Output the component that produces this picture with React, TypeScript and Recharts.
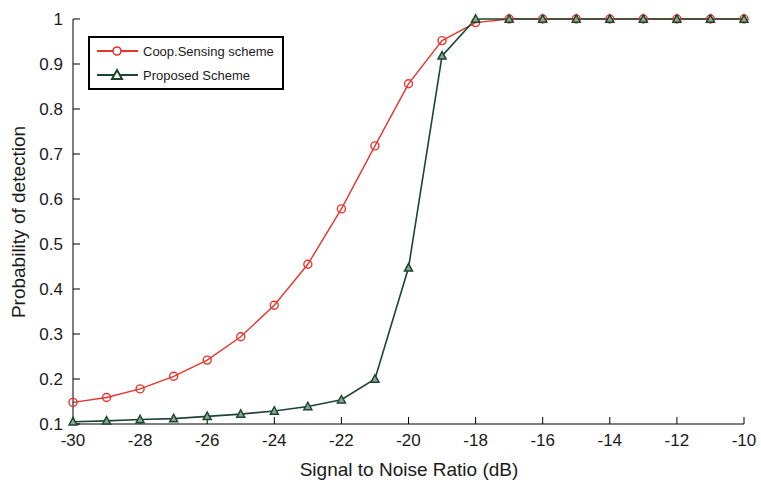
import { LineChart, Line, XAxis, YAxis, Legend } from 'recharts'

// SNR sweep in dB
const snr = [-30, -29, -28, -27, -26, -25, -24, -23, -22, -21, -20, -19, -18, -17, -16, -15, -14, -13, -12, -11, -10]
// probability of detection, cooperative sensing
const coopSensing = [0.148, 0.159, 0.178, 0.206, 0.242, 0.294, 0.364, 0.455, 0.578, 0.718, 0.856, 0.952, 0.992, 1, 1, 1, 1, 1, 1, 1, 1]
// probability of detection, proposed scheme
const proposed = [0.105, 0.107, 0.110, 0.112, 0.117, 0.122, 0.129, 0.139, 0.154, 0.200, 0.447, 0.918, 1, 1, 1, 1, 1, 1, 1, 1, 1]

const xTicks = [-30, -28, -26, -24, -22, -20, -18, -16, -14, -12, -10]
const yTicks = [0.1, 0.2, 0.3, 0.4, 0.5, 0.6, 0.7, 0.8, 0.9, 1]

const RED = '#e8342b'
const GREEN = '#1d4631'
const FONT = '"Liberation Sans", Arial, Helvetica, sans-serif'

const data = snr.map((s, i) => ({ snr: s, coop: coopSensing[i], prop: proposed[i] }))

const tickStyle = { fill: '#1a1a1a', fontSize: 17, fontFamily: FONT }

function Triangle(props: any) {
  const { cx, cy } = props
  if (cx == null || cy == null) return null
  const pts = `${cx - 4},${cy + 3.2} ${cx + 4},${cy + 3.2} ${cx},${cy - 4.2}`
  return <polygon points={pts} fill="#8fa895" stroke={GREEN} strokeWidth={1.5} />
}

function LegendBox() {
  return (
    <svg width={196} height={54} style={{ display: 'block' }}>
      <rect x={1} y={1} width={194} height={52} fill="#fff" stroke="#000" strokeWidth={2} />
      <line x1={9} x2={50} y1={15} y2={15} stroke={RED} strokeWidth={2} />
      <circle cx={29} cy={15} r={4} fill="#fff" stroke={RED} strokeWidth={1.6} />
      <text x={55} y={20} fontSize={13} fontFamily={FONT} fill="#1a1a1a">Coop.Sensing scheme</text>
      <line x1={9} x2={50} y1={39} y2={39} stroke={GREEN} strokeWidth={2} />
      <polygon points="24,43 34,43 29,34" fill="#fff" stroke={GREEN} strokeWidth={2} />
      <text x={55} y={44} fontSize={13} fontFamily={FONT} fill="#1a1a1a">Proposed Scheme</text>
    </svg>
  )
}

export default function App() {
  return (
    <div style={{ width: 761, height: 482, background: '#fff' }}>
      <style>{`body{margin:0}`}</style>
      <LineChart width={761} height={482} data={data} margin={{ top: 19, right: 17, left: 13, bottom: 28 }}>
        <XAxis
          dataKey="snr"
          type="number"
          domain={[-30, -10]}
          ticks={xTicks}
          height={30}
          stroke="#000"
          tickSize={-7}
          tickMargin={17}
          tick={tickStyle}
          label={{
            content: () => (
              <text x={409} y={476} textAnchor="middle" fontSize={19} fontFamily={FONT} fill="#1a1a1a">
                Signal to Noise Ratio (dB)
              </text>
            ),
          }}
        />
        <XAxis xAxisId="top" orientation="top" dataKey="snr" type="number" domain={[-30, -10]} ticks={xTicks}
          height={0} stroke="#000" tickSize={-7} tick={false} />
        <YAxis
          type="number"
          domain={[0.1, 1]}
          ticks={yTicks}
          width={60}
          stroke="#000"
          tickSize={-7}
          tickMargin={17}
          tick={tickStyle}
          label={{
            content: () => (
              <text x={25} y={222} textAnchor="middle" fontSize={19} fontFamily={FONT} fill="#1a1a1a"
                transform="rotate(-90 25 222)">
                Probability of detection
              </text>
            ),
          }}
        />
        <YAxis yAxisId="right" orientation="right" type="number" domain={[0.1, 1]} ticks={yTicks}
          width={0} stroke="#000" tickSize={-7} tick={false} />
        {/* zero-height wrapper so the legend floats inside the plot without shrinking it */}
        <Legend
          content={() => <LegendBox />}
          wrapperStyle={{ left: 88, top: 36, width: 196, height: 0, overflow: 'visible', bottom: 'auto' }}
        />
        <Line
          dataKey="coop"
          stroke={RED}
          strokeWidth={1.4}
          dot={{ r: 4, fill: 'none', stroke: RED, strokeWidth: 1.4 }}
          isAnimationActive={false}
        />
        <Line
          dataKey="prop"
          stroke={GREEN}
          strokeWidth={1.6}
          dot={<Triangle />}
          isAnimationActive={false}
        />
      </LineChart>
    </div>
  )
}
